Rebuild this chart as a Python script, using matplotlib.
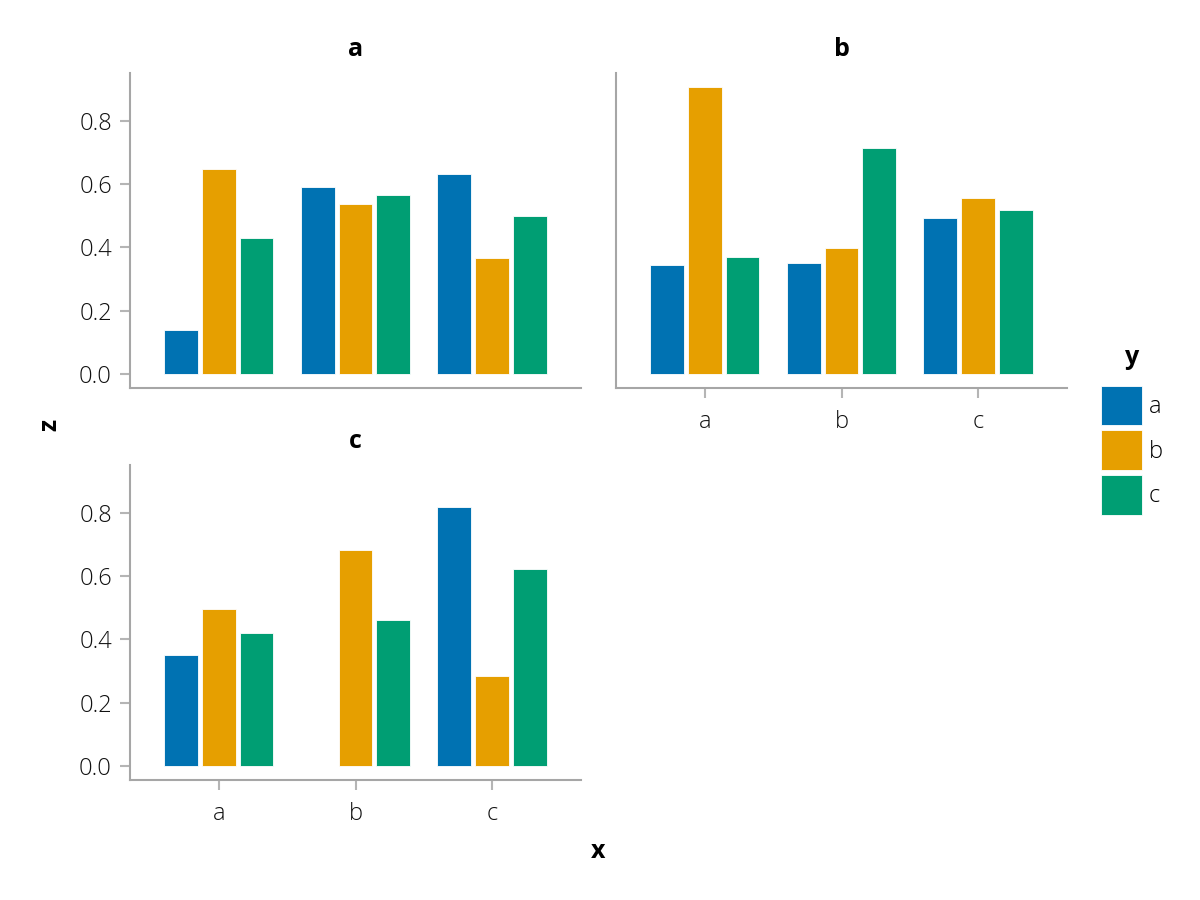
import matplotlib
matplotlib.use("Agg")
import matplotlib.pyplot as plt
from matplotlib.patches import Patch
import numpy as np

plt.rcParams['font.family'] = ['Open Sans', 'DejaVu Sans']
plt.rcParams['font.size'] = 17

# data
facets = ["a", "b", "c"]
categories = ["a", "b", "c"]
groups = ["a", "b", "c"]
colors = ["#0072B2", "#E69F00", "#009E73"]

# values[facet][series] -> one value per x category (None = no bar)
vals_a = {"a": [0.137, 0.593, 0.634], "b": [0.650, 0.539, 0.367], "c": [0.430, 0.567, 0.500]}
vals_b = {"a": [0.344, 0.351, 0.494], "b": [0.908, 0.398, 0.558], "c": [0.370, 0.714, 0.520]}
vals_c = {"a": [0.352, None, 0.819], "b": [0.498, 0.683, 0.283], "c": [0.419, 0.463, 0.622]}
facet_vals = [vals_a, vals_b, vals_c]

fig = plt.figure(figsize=(12, 9), dpi=100)

spine_col = "#a6a6a6"
tick_col = "#b5b5b5"

rects = [
    [130/1200, (900-388)/900, 451/1200, 315/900],
    [616/1200, (900-388)/900, 451/1200, 315/900],
    [130/1200, (900-780)/900, 451/1200, 315/900],
]

x = np.arange(1, len(categories) + 1)
gap = 0.03
w = (0.8 - gap * (len(groups) - 1)) / len(groups)

axes = []
for i, name in enumerate(facets):
    ax = fig.add_axes(rects[i])
    axes.append(ax)
    for j, g in enumerate(groups):
        v = np.array([np.nan if t is None else t for t in facet_vals[i][g]])
        off = (j - 1) * (w + gap)
        ax.bar(x + off, v, width=w, color=colors[j], edgecolor="white", linewidth=0.6)
    ax.set_xlim(0.35, 3.65)
    ax.set_ylim(-0.0454, 0.953)
    ax.set_yticks([0, 0.2, 0.4, 0.6, 0.8])
    ax.set_xticks(x)
    ax.set_xticklabels(categories)
    for s in ["top", "right"]:
        ax.spines[s].set_visible(False)
    for s in ["left", "bottom"]:
        ax.spines[s].set_color(spine_col)
        ax.spines[s].set_linewidth(1.5)
    ax.tick_params(axis="both", color=tick_col, labelcolor="#111111",
                   width=1.5, length=7, labelsize=17)
    ax.tick_params(axis="y", pad=6)
    ax.tick_params(axis="x", pad=9)
    for lab in ax.get_xticklabels() + ax.get_yticklabels():
        lab.set_fontweight("light")
    ax.set_title(name, fontweight="bold", fontsize=18, pad=12)

# hide decorations on linked axes
axes[0].tick_params(axis="x", bottom=False, labelbottom=False)
axes[1].tick_params(axis="y", left=False, labelleft=False)

fig.text(50/1200, 1 - 425/900, "z", rotation=90, fontweight="bold", fontsize=18,
         ha="center", va="center")
fig.text(598/1200, 1 - 852/900, "x", fontweight="bold", fontsize=18,
         ha="center", va="center")

handles = [Patch(facecolor=c, edgecolor="white", linewidth=0.6) for c in colors]
leg = fig.legend(handles, groups, title="y", loc="upper left",
                 bbox_to_anchor=(1092/1200, 1 - 336/900), frameon=False,
                 handlelength=1.7, handleheight=2.2, labelspacing=0.22,
                 handletextpad=0.3, borderaxespad=0, fontsize=17,
                 title_fontproperties={"weight": "bold", "size": 18})
leg._legend_box.sep = 11
for t in leg.get_texts():
    t.set_fontweight("light")

fig.savefig("out.png", dpi=100)
